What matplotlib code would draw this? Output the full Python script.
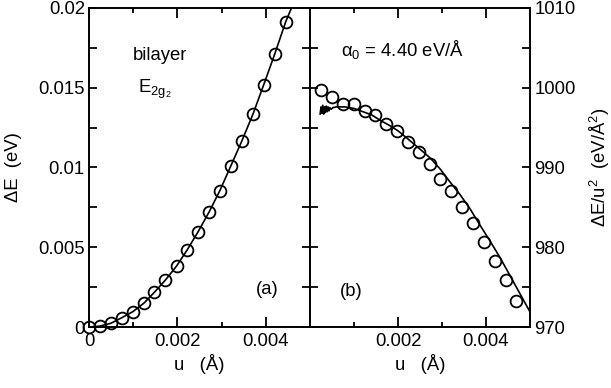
import matplotlib
matplotlib.use('Agg')
import matplotlib.pyplot as plt
from matplotlib.ticker import MultipleLocator, FixedLocator

plt.rcParams['font.family'] = ['Liberation Sans', 'DejaVu Sans']
plt.rcParams['mathtext.fontset'] = 'custom'
plt.rcParams['mathtext.rm'] = 'Liberation Sans'
plt.rcParams['mathtext.it'] = 'Liberation Sans'

# displacement u (Angstrom) of the computed points
u_pts = [0.0, 0.00025, 0.00049, 0.00074, 0.00099, 0.00124, 0.00148, 0.00173,
         0.00198, 0.00222, 0.00247, 0.00272, 0.00296, 0.00321, 0.00346,
         0.00371, 0.00395, 0.00420, 0.00445, 0.00469]

# (a) energy change dE (eV), points k = 0..18
dE_pts = [0.0, 0.00006, 0.00023, 0.00058, 0.00096, 0.00149, 0.00218, 0.00295,
          0.00382, 0.00483, 0.00598, 0.00723, 0.00855, 0.01011, 0.01168,
          0.01335, 0.01517, 0.0171, 0.01914]

# (a) fitted curve
u_fit_a = u_pts[:19] + [0.00458]
dE_fit = dE_pts + [0.0200]

# (b) dE/u^2 (eV/A^2), points k = 1..19
ratio_pts = [999.7, 998.8, 997.9, 997.9, 997.1, 996.6, 995.5, 994.6, 993.2,
             991.9, 990.4, 988.6, 987.0, 985.0, 983.0, 980.7, 978.3, 975.9, 973.2]

# (b) fitted curve (noisy at small u)
u_fit_b = [0.00023, 0.00025, 0.00027, 0.00029, 0.00031, 0.00033, 0.00035,
           0.00037, 0.00039, 0.00041, 0.00043, 0.00045, 0.00048, 0.00052,
           0.0006, 0.0008, 0.0010, 0.0012, 0.0014, 0.0016, 0.0018, 0.0020,
           0.0022, 0.0025, 0.00273, 0.00296, 0.00318, 0.00341, 0.00364,
           0.00386, 0.00409, 0.00432, 0.00455, 0.00477, 0.0050]
ratio_fit = [996.7, 997.6, 996.8, 997.8, 996.7, 997.6, 996.9, 997.7, 997.0,
             997.6, 997.1, 997.5, 997.3, 997.5, 997.6, 997.6, 997.4, 997.0,
             996.6, 995.9, 995.3, 994.6, 993.7, 992.3, 991.2, 989.8, 988.2,
             986.6, 984.8, 982.8, 980.8, 978.7, 976.4, 974.2, 971.9]

fig = plt.figure(figsize=(6.11, 3.88), dpi=100)
ax1 = fig.add_axes([0.1457, 0.1572, 0.3617, 0.8222])
ax2 = fig.add_axes([0.5074, 0.1572, 0.3600, 0.8222])

fs = 13.3
for ax in (ax1, ax2):
    for sp in ax.spines.values():
        sp.set_linewidth(1.4)
    ax.set_xlim(0, 0.005)
    ax.xaxis.set_major_locator(FixedLocator([0.002, 0.004]))
    ax.xaxis.set_minor_locator(FixedLocator([0.001, 0.003]))
    ax.tick_params(axis='x', which='major', direction='in', length=7, width=1.3,
                   top=True, bottom=True, labelsize=fs, pad=4)
    ax.tick_params(axis='x', which='minor', direction='in', length=3.6, width=1.3,
                   top=True, bottom=True)
    ax.tick_params(axis='y', which='both', direction='in', length=5.8, width=1.3,
                   left=True, right=True, labelsize=fs, pad=3)
    ax.set_xlabel('u   (Å)', fontsize=fs, labelpad=3)

# panel (a)
ax1.plot(u_fit_a, dE_fit, color='black', lw=1.2)
ax1.plot(u_pts[:19], dE_pts, 'o', ms=8.5, mfc='none', mec='black', mew=1.3,
         clip_on=False)
ax1.set_ylim(0, 0.02)
ax1.xaxis.set_major_locator(FixedLocator([0.0, 0.002, 0.004]))
ax1.set_xticklabels(['0', '0.002', '0.004'])
ax1.yaxis.set_minor_locator(MultipleLocator(0.0025))
ax1.set_yticks([0, 0.005, 0.01, 0.015, 0.02])
ax1.set_yticklabels(['0', '0.005', '0.01', '0.015', '0.02'])
ax1.set_ylabel('ΔE  (eV)', fontsize=fs, labelpad=12)
ax1.text(0.00100, 0.01674, 'bilayer', fontsize=fs)
ax1.text(0.00111, 0.01467, r'E$_{\mathregular{2g_2}}$', fontsize=fs)
ax1.text(0.00377, 0.00205, '(a)', fontsize=fs)

# panel (b)
ax2.plot(u_fit_b, ratio_fit, color='black', lw=1.2)
ax2.plot(u_pts[1:], ratio_pts, 'o', ms=8.5, mfc='none', mec='black', mew=1.3,
         clip_on=False)
ax2.set_ylim(970, 1010)
ax2.yaxis.set_major_locator(MultipleLocator(10))
ax2.yaxis.set_minor_locator(MultipleLocator(5))
ax2.yaxis.set_label_position('right')
ax2.tick_params(axis='y', which='both', labelleft=False, labelright=True)
ax2.set_ylabel(r'ΔE/u$^{\mathregular{2}}$  (eV/Å$^{\mathregular{2}}$)', fontsize=fs,
               labelpad=9)
ax2.text(0.00070, 1004.0, r'α$_{\mathregular{0}}$ = 4.40 eV/Å', fontsize=fs)
ax2.text(0.00068, 973.9, '(b)', fontsize=fs)

fig.savefig('out.png', dpi=100)
